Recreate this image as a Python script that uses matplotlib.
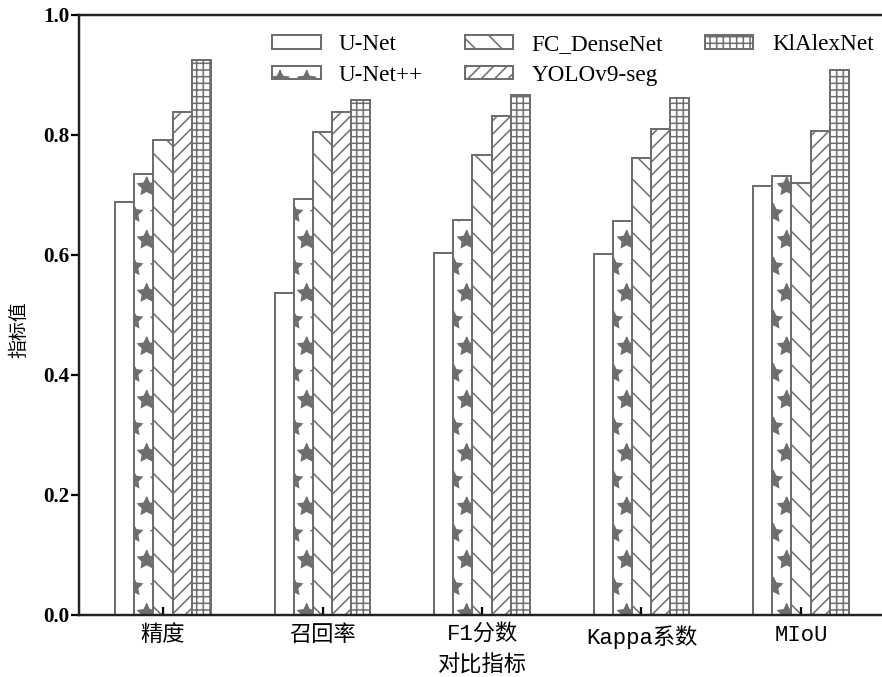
import matplotlib
matplotlib.use("Agg")
import matplotlib.pyplot as plt
import numpy as np

categories = ["精度", "召回率", "F1分数", "Kappa系数", "MIoU"]
models = ["U-Net", "U-Net++", "FC_DenseNet", "YOLOv9-seg", "KlAlexNet"]
unet = [0.688, 0.537, 0.603, 0.602, 0.715]
unetpp = [0.735, 0.693, 0.658, 0.657, 0.732]
fc_densenet = [0.792, 0.805, 0.767, 0.762, 0.720]
yolov9 = [0.838, 0.838, 0.832, 0.810, 0.807]
klalexnet = [0.925, 0.858, 0.867, 0.862, 0.908]
yticks = [0.0, 0.2, 0.4, 0.6, 0.8, 1.0]

series = [unet, unetpp, fc_densenet, yolov9, klalexnet]
hatches = ["", "*", "\\\\", "////", "++++"]

DPI = 160
W, H = 882, 677
plt.rcParams["hatch.linewidth"] = 0.7
plt.rcParams["hatch.color"] = "#6a6a6a"

fig = plt.figure(figsize=(W / DPI, H / DPI), dpi=DPI)
left, right, top, bottom = 79, 885, 15, 615
ax = fig.add_axes([left / W, 1 - bottom / H, (right - left) / W, (bottom - top) / H])

x = np.arange(len(categories))
bw = 0.12
ec = "#6e6e6e"
handles = []
for i, (vals, hat, name) in enumerate(zip(series, hatches, models)):
    b = ax.bar(x + (i - 2) * bw, vals, width=bw, facecolor="white", edgecolor=ec,
               linewidth=0.9, hatch=hat, label=name)
    handles.append(b)

ax.set_xlim(-0.527, 4.527)
ax.set_ylim(0, 1.0)
ax.set_yticks(yticks)
ax.set_yticklabels([f"{v:.1f}" for v in yticks], fontfamily="Liberation Serif",
                   fontweight="bold", fontsize=9.5)
ax.set_xticks(x)
ax.set_xticklabels(categories, family=["Liberation Mono", "Noto Sans CJK SC"], fontsize=10)

for s in ["left", "bottom", "top", "right"]:
    ax.spines[s].set_linewidth(1.1)
    ax.spines[s].set_color("#222222")

ax.tick_params(axis="y", direction="out", length=3.6, width=1.0, pad=0.8)
ax.tick_params(axis="x", direction="in", length=3.6, width=1.0, pad=4.5)

ax.set_ylabel("指标值", family=["Noto Sans CJK SC", "DejaVu Sans"], fontsize=8.5)
ax.yaxis.set_label_coords(-0.061, 0.475)
ax.set_xlabel("对比指标", family=["Noto Sans CJK SC", "DejaVu Sans"], fontsize=10, labelpad=2)

leg = ax.legend(handles=handles, labels=models, ncol=3, frameon=False,
                loc="upper left", bbox_to_anchor=(272 / W, 1 - 34 / H),
                bbox_transform=fig.transFigure,
                prop={"family": "Liberation Serif", "size": 10.4},
                handlelength=2.1, handleheight=0.55, handletextpad=0.8,
                columnspacing=1.8, labelspacing=0.42, borderaxespad=0, borderpad=0)

fig.savefig("out.png", dpi=DPI)
